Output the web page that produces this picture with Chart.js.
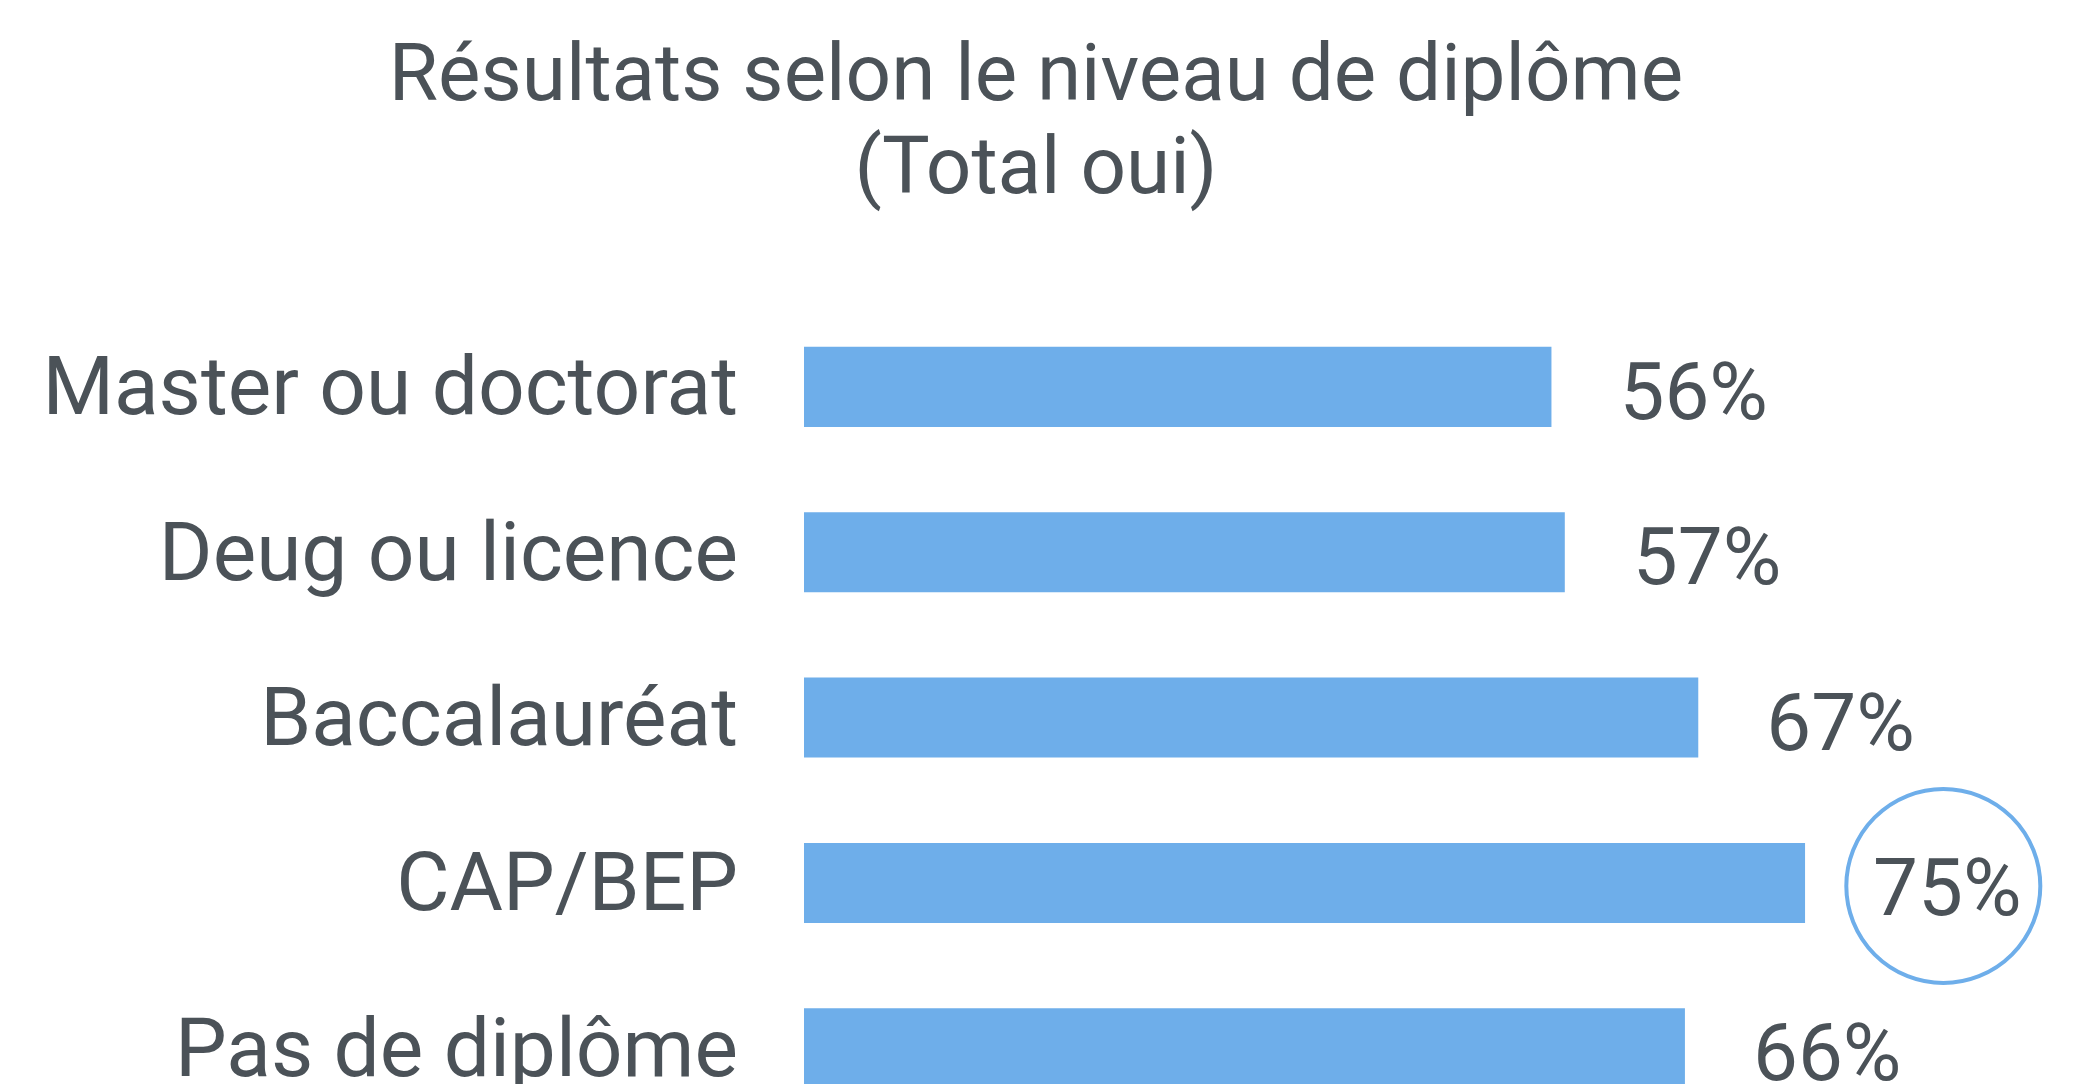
<!DOCTYPE html>
<html lang="fr">
  <head>
    <meta charset="UTF-8" />
    <title>Résultats selon le niveau de diplôme</title>
    <style>
      html, body { margin: 0; padding: 0; overflow: hidden; background: #fff; }
      #wrap { width: 2078px; height: 1084px; overflow: hidden; }
      #myChart { display: block; }
    </style>
  </head>
  <body>
    <div id="wrap">
      <!-- canvas is taller than the page: the last row is cut off at the bottom like the original -->
      <canvas id="myChart" width="2078" height="1160"></canvas>
    </div>
  </body>
  <script src="https://cdn.jsdelivr.net/npm/chart.js"></script>
  <script>
    var categories = ["Master ou doctorat", "Deug ou licence", "Baccalauréat", "CAP/BEP", "Pas de diplôme"];
    var values = [56, 57, 67, 75, 66];
    var titleLines = ["Résultats selon le niveau de diplôme", "(Total oui)"];
    var highlighted = 3; // CAP/BEP is circled

    var textColor = "#4b5258";
    var barColor = "#6eaeea";
    var fontFamily = "Roboto, 'DejaVu Sans', sans-serif";

    // value labels to the right of each bar, plus the circle on the highlighted one
    var valueLabels = {
      id: "valueLabels",
      afterDatasetsDraw: function (chart) {
        var ctx = chart.ctx;
        var meta = chart.getDatasetMeta(0);
        ctx.save();
        ctx.font = "80px " + fontFamily;
        ctx.fillStyle = textColor;
        ctx.textBaseline = "alphabetic";
        ctx.textAlign = "left";
        meta.data.forEach(function (bar, i) {
          var txt = values[i] + "%";
          var x = bar.x + 68;
          ctx.fillText(txt, x, bar.y + 32);
          if (i === highlighted) {
            var w = ctx.measureText(txt).width;
            ctx.beginPath();
            ctx.arc(x + w / 2 - 4, bar.y + 3, 97, 0, Math.PI * 2);
            ctx.lineWidth = 4;
            ctx.strokeStyle = barColor;
            ctx.stroke();
          }
        });
        ctx.restore();
      },
    };

    var config = {
      type: "bar",
      data: {
        labels: categories,
        datasets: [
          {
            data: values,
            backgroundColor: barColor,
            borderWidth: 0,
            categoryPercentage: 1,
            barPercentage: 0.484,
          },
        ],
      },
      options: {
        indexAxis: "y",
        responsive: false,
        animation: false,
        layout: { padding: { left: 0, right: 6, top: 0, bottom: 29 } },
        plugins: {
          legend: { display: false },
          tooltip: { enabled: false },
          title: {
            display: true,
            text: titleLines,
            color: textColor,
            font: { family: fontFamily, size: 80, weight: "normal", lineHeight: 1.17 },
            padding: { top: 33, bottom: 84 },
          },
        },
        scales: {
          x: { display: false, min: 0, max: 95 },
          y: {
            grid: { display: false, drawTicks: false },
            border: { display: false },
            ticks: {
              color: textColor,
              padding: 66,
              labelOffset: 7,
              font: { family: fontFamily, size: 82 },
            },
            afterFit: function (scale) {
              scale.width = 804;
              // don't let tick padding shrink the plot area
              scale.paddingTop = 0;
              scale.paddingBottom = 0;
            },
          },
        },
      },
      plugins: [valueLabels],
    };

    var myChart = new Chart(document.getElementById("myChart"), config);
  </script>
</html>
